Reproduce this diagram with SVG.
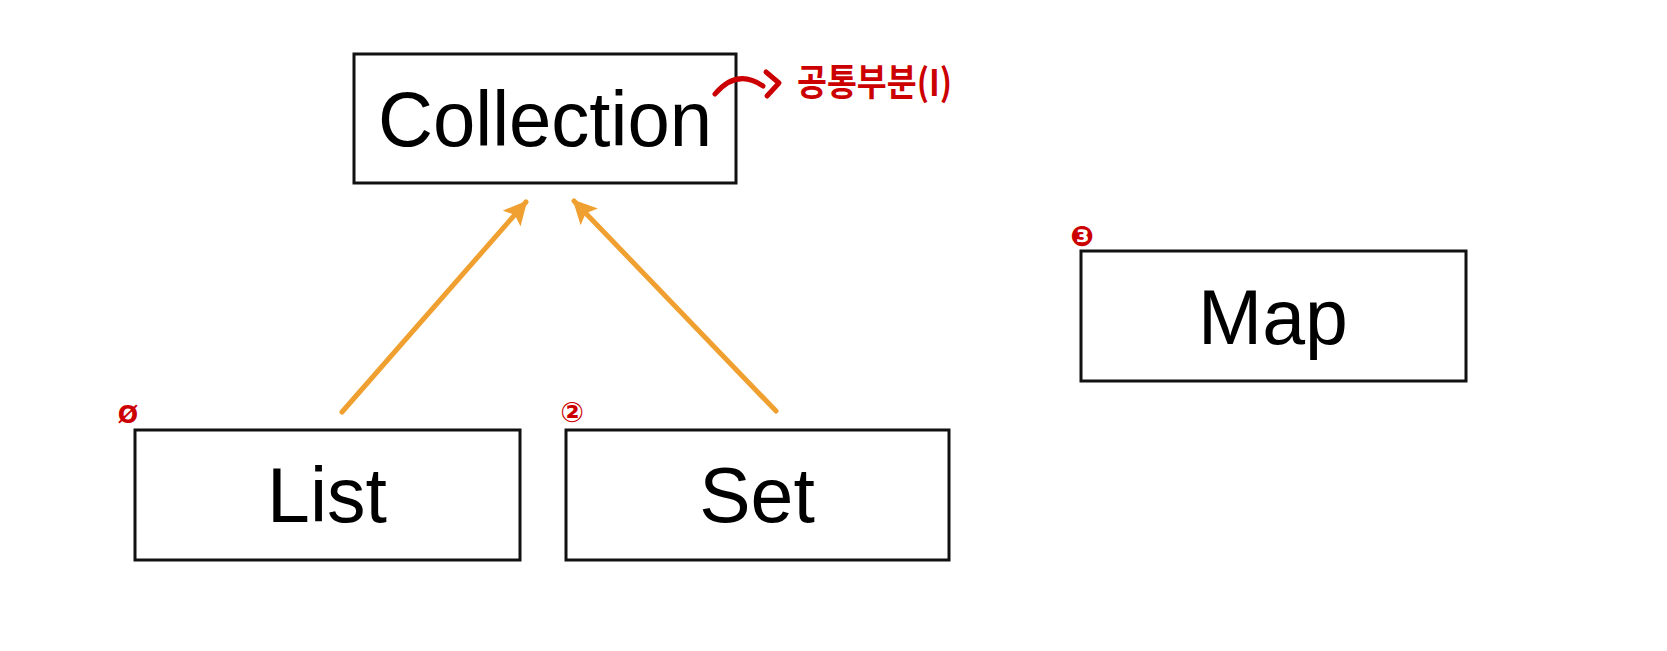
<svg xmlns="http://www.w3.org/2000/svg" width="1667" height="651" viewBox="0 0 1667 651">
<style>
.box{fill:#fff;stroke:#111;stroke-width:3}
.lbl{font-family:"Liberation Sans",Arial,sans-serif;font-size:77px;fill:#000;text-anchor:middle}
.conn{stroke:#f0a030;stroke-width:5;fill:none;stroke-linecap:round}
.red{fill:#cc0000;font-family:"Noto Sans CJK KR","Noto Sans",sans-serif;font-weight:bold}
.num{font-family:"DejaVu Sans","Noto Sans CJK KR",sans-serif;fill:#cc0000;text-anchor:middle;font-weight:bold}
</style>
<defs>
<marker id="ah" markerUnits="userSpaceOnUse" markerWidth="30" markerHeight="30" refX="22" refY="12" orient="auto">
<polygon points="0,0 24,12 0,24 5,12" fill="#f0a030"/>
</marker>
</defs>
<rect width="1667" height="651" fill="#fff"/>
<g id="connectors">
<line class="conn" x1="342" y1="412" x2="526" y2="202" marker-end="url(#ah)"/>
<line class="conn" x1="776" y1="411" x2="574" y2="201" marker-end="url(#ah)"/>
</g>
<g id="collection">
<rect class="box" x="354" y="54" width="382" height="129"/>
<text class="lbl" x="545" y="146" textLength="334" lengthAdjust="spacingAndGlyphs">Collection</text>
</g>
<g id="annotation">
<path d="M715,94 Q737,68 763,86" stroke="#cc0000" stroke-width="5" fill="none" stroke-linecap="round"/>
<path d="M766,72 L779,83 L767,96" stroke="#cc0000" stroke-width="5" fill="none" stroke-linecap="round" stroke-linejoin="round"/>
<text class="red" x="797" y="96" font-size="37" textLength="155" lengthAdjust="spacingAndGlyphs">공통부분(I)</text>
</g>
<g id="list">
<rect class="box" x="135" y="430" width="385" height="130"/>
<text class="lbl" x="327" y="522">List</text>
<text class="num" x="128" y="423" font-size="24">Ø</text>
</g>
<g id="set">
<rect class="box" x="566" y="430" width="383" height="130"/>
<text class="lbl" x="757" y="522">Set</text>
<text class="num" x="572" y="422" font-size="28">②</text>
</g>
<g id="map">
<rect class="box" x="1081" y="251" width="385" height="130"/>
<text class="lbl" x="1273" y="344">Map</text>
<text class="num" x="1082" y="246" font-size="28">❸</text>
</g>
</svg>
